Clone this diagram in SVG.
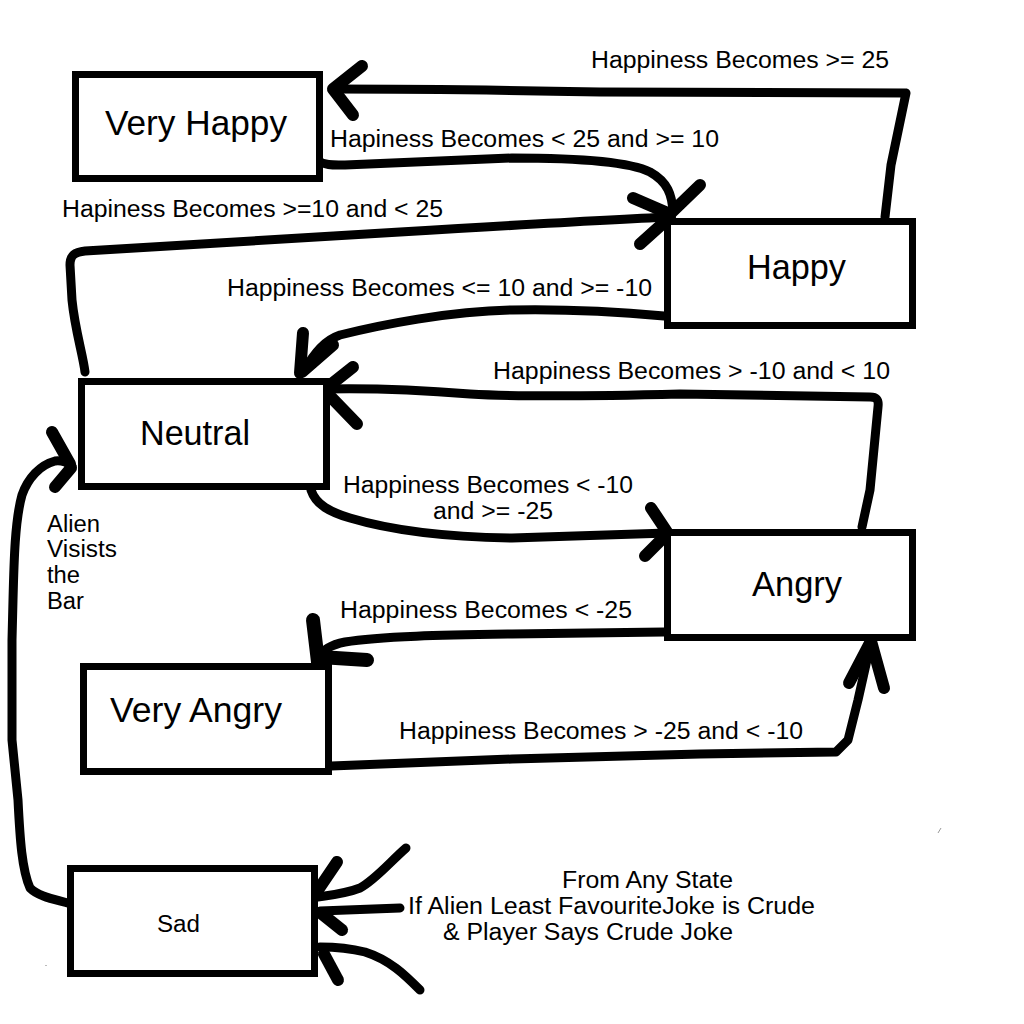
<svg xmlns="http://www.w3.org/2000/svg" width="1024" height="1024" viewBox="0 0 1024 1024">
<style>
.box{fill:#fff;stroke:#000;stroke-width:7}
.nt{font-family:"Liberation Sans",Arial,sans-serif;font-size:34.5px;fill:#000}
.lb{font-family:"Liberation Sans",Arial,sans-serif;font-size:23px;fill:#000}
.ln{fill:none;stroke:#000;stroke-width:9;stroke-linecap:round;stroke-linejoin:round}
.wg{fill:none;stroke:#000;stroke-width:12;stroke-linecap:round;stroke-linejoin:round}
</style>
<rect width="1024" height="1024" fill="#fff"/>
<g id="connectors">
<g id="c-vh">
<path class="ln" d="M885,217 L891,165 L906,93 C800,92 700,93 600,92 C500,90 400,89 333,89"/>
<path class="wg" d="M362,66 L333,89 L353,115"/>
</g>
<g id="c-vh-happy">
<path class="ln" d="M317,160 C325,166 335,165 345,165 L512,158 C580,158 630,162 650,172 C668,182 672,195 673,212"/>
<path class="wg" d="M633,198 L670,214 M700,185 L670,214"/>
</g>
<g id="c-neutral-happy">
<path class="ln" d="M85,372 C83,355 75,330 72,300 L70,265 C70,255 75,252 85,251 C200,245 300,238 400,232 C500,226 600,220 670,217"/>
<path class="wg" d="M640,244 L670,217"/>
</g>
<g id="c-happy-neutral">
<path class="ln" d="M664,316 C620,312 560,309 512,310 C450,311 380,325 340,335 C325,340 315,352 303,372"/>
<path class="wg" d="M303,333 L300,373 M333,345 L302,372"/>
</g>
<g id="c-angry-neutral">
<path class="ln" d="M862,527 L870,490 L878,407 C879,399 876,397 870,397 L680,394 C600,396 520,397 470,394 C420,390 370,388 325,389"/>
<path class="wg" d="M353,367 L324,390 M357,424 L328,394"/>
</g>
<g id="c-neutral-angry">
<path class="ln" d="M311,490 C316,505 330,512 350,518 C390,530 440,537 512,538 L668,533"/>
<path class="wg" d="M651,508 L667,532 M645,556 L667,534"/>
</g>
<g id="c-angry-veryangry">
<path class="ln" d="M664,632 L512,634 C450,635 380,636 345,642 C330,645 323,650 318,658"/>
<path class="wg" style="stroke-width:14" d="M313,620 L318,662 M367,660 L320,657"/>
</g>
<g id="c-veryangry-angry">
<path class="ln" d="M331,766 L512,759 L700,754 L836,752 L848,740 L858,700 L871,642"/>
<path class="wg" d="M849,683 L871,641 L884,688"/>
</g>
<g id="c-sad-neutral">
<path class="ln" d="M77,906 C60,900 40,898 30,888 C22,870 20,840 18,800 L12,740 L12,640 L13,600 C14,560 15,520 22,495 C28,478 40,465 55,461 C62,460 68,463 72,466"/>
<path class="wg" d="M52,432 L70,464 M55,487 L71,468"/>
</g>
<g id="c-any-sad">
<path class="ln" d="M406,848 C390,862 375,880 360,888 C345,894 330,895 311,898"/>
<path class="wg" d="M337,862 L316,893"/>
<path class="ln" d="M400,908 L320,911"/>
<path class="wg" d="M342,930 L322,914"/>
<path class="ln" d="M420,990 C405,975 390,960 365,952 C345,947 330,947 320,947"/>
<path class="wg" d="M338,980 L324,954"/>
</g>
</g>
<g id="very-happy">
<rect class="box" x="75.5" y="74.5" width="244" height="104"/>
<text class="nt" x="105" y="135" textLength="182" lengthAdjust="spacingAndGlyphs">Very Happy</text>
</g>
<g id="happy">
<rect class="box" x="667.5" y="221.5" width="245" height="104"/>
<text class="nt" x="747" y="279" textLength="99" lengthAdjust="spacingAndGlyphs">Happy</text>
</g>
<g id="neutral">
<rect class="box" x="81.5" y="381.5" width="245" height="105"/>
<text class="nt" x="140" y="445" textLength="110" lengthAdjust="spacingAndGlyphs">Neutral</text>
</g>
<g id="angry">
<rect class="box" x="667.5" y="532.5" width="245" height="105"/>
<text class="nt" x="752" y="596" textLength="90" lengthAdjust="spacingAndGlyphs">Angry</text>
</g>
<g id="very-angry">
<rect class="box" x="83.5" y="666.5" width="245" height="105"/>
<text class="nt" x="110" y="722" textLength="172" lengthAdjust="spacingAndGlyphs">Very Angry</text>
</g>
<g id="sad">
<rect class="box" x="70.5" y="868.5" width="244" height="105"/>
<text class="lb" x="157" y="932" textLength="43" lengthAdjust="spacingAndGlyphs">Sad</text>
</g>
<g id="labels">
<text class="lb" x="591" y="68" textLength="298" lengthAdjust="spacingAndGlyphs">Happiness Becomes &gt;= 25</text>
<text class="lb" x="330" y="147" textLength="389" lengthAdjust="spacingAndGlyphs">Hapiness Becomes &lt; 25 and &gt;= 10</text>
<text class="lb" x="62" y="217" textLength="381" lengthAdjust="spacingAndGlyphs">Hapiness Becomes &gt;=10 and &lt; 25</text>
<text class="lb" x="227" y="296" textLength="425" lengthAdjust="spacingAndGlyphs">Happiness Becomes &lt;= 10 and &gt;= -10</text>
<text class="lb" x="493" y="379" textLength="397" lengthAdjust="spacingAndGlyphs">Happiness Becomes &gt; -10 and &lt; 10</text>
<text class="lb" x="343" y="493" textLength="290" lengthAdjust="spacingAndGlyphs">Happiness Becomes &lt; -10</text>
<text class="lb" x="433" y="519" textLength="120" lengthAdjust="spacingAndGlyphs">and &gt;= -25</text>
<text class="lb" x="340" y="618" textLength="292" lengthAdjust="spacingAndGlyphs">Happiness Becomes &lt; -25</text>
<text class="lb" x="399" y="739" textLength="404" lengthAdjust="spacingAndGlyphs">Happiness Becomes &gt; -25 and &lt; -10</text>
<text class="lb" x="47" y="532" textLength="53" lengthAdjust="spacingAndGlyphs">Alien</text>
<text class="lb" x="47" y="557" textLength="70" lengthAdjust="spacingAndGlyphs">Visists</text>
<text class="lb" x="47" y="583" textLength="33" lengthAdjust="spacingAndGlyphs">the</text>
<text class="lb" x="47" y="609" textLength="37" lengthAdjust="spacingAndGlyphs">Bar</text>
<text class="lb" x="562" y="888" textLength="171" lengthAdjust="spacingAndGlyphs">From Any State</text>
<text class="lb" x="408" y="914" textLength="407" lengthAdjust="spacingAndGlyphs">If Alien Least FavouriteJoke is Crude</text>
<text class="lb" x="443" y="940" textLength="290" lengthAdjust="spacingAndGlyphs">&amp; Player Says Crude Joke</text>
</g>
<path d="M938,833 L941,828" stroke="#999" stroke-width="1" fill="none"/>
<rect x="45" y="965" width="2" height="1" fill="#bbb"/>
</svg>
